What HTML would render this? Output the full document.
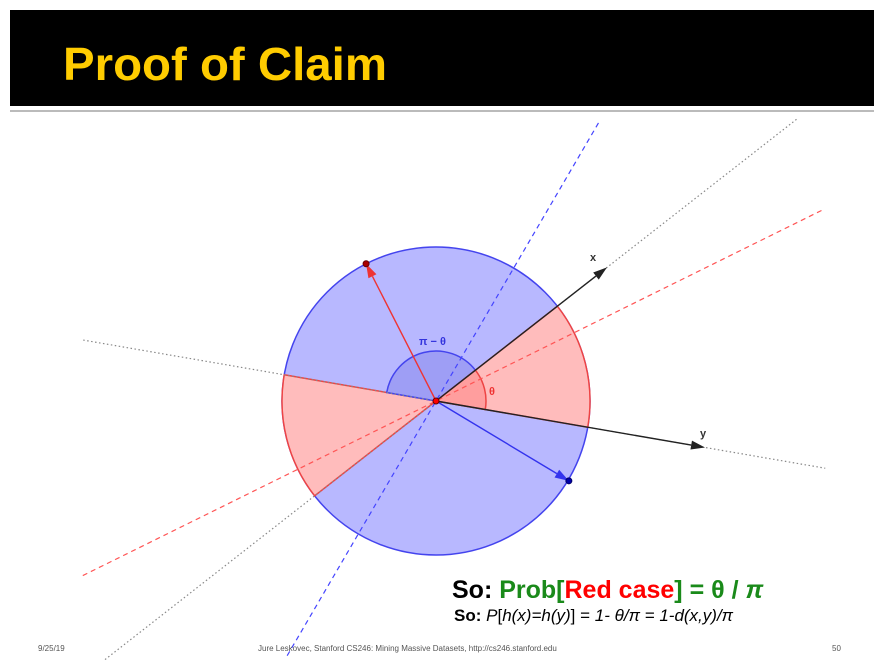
<!DOCTYPE html>
<html><head><meta charset="utf-8"><style>
body{margin:0;background:#fff;width:889px;height:670px;overflow:hidden}
svg{display:block}
</style></head><body>
<svg id="s" width="889" height="670" xmlns="http://www.w3.org/2000/svg" font-family="Liberation Sans, sans-serif">
<rect x="10" y="10" width="864" height="96" fill="#000"/>
<rect x="10" y="110" width="864" height="2" fill="#bbb"/>
<text x="63" y="80" font-size="46" font-weight="bold" fill="#ffcc00" textLength="324" lengthAdjust="spacingAndGlyphs">Proof of Claim</text>
<g id="dia"></g>
<text x="452" y="598" font-size="25" font-weight="bold"><tspan fill="#000">So: </tspan><tspan fill="#1a8a1a">Prob[</tspan><tspan fill="#ff0000">Red case</tspan><tspan fill="#1a8a1a">] = θ / </tspan><tspan fill="#1a8a1a" font-style="italic">π</tspan></text>
<text x="454" y="621" font-size="17"><tspan font-weight="bold">So: </tspan><tspan font-style="italic">P</tspan>[<tspan font-style="italic">h(x)=h(y)</tspan>] = <tspan font-style="italic">1- θ/π = 1-d(x,y)/π</tspan></text>
<text x="38" y="651" font-size="8" fill="#555">9/25/19</text>
<text x="258" y="651" font-size="8" fill="#555">Jure Leskovec, Stanford CS246: Mining Massive Datasets, http://cs246.stanford.edu</text>
<text x="832" y="651" font-size="8" fill="#555">50</text>
</svg>
<script>
const cx=436, cy=401, R=154, r=50;
const xAngle=-38, yAngle=9.8, redVecAngle=-117, blueVecAngle=31;
const xLen=217, yLen=273, redLen=154, blueLen=155;
const NS="http://www.w3.org/2000/svg";
const g=document.getElementById('dia');
function pt(a,d){const t=a*Math.PI/180;return [cx+d*Math.cos(t),cy+d*Math.sin(t)];}
function mk(tag,at,name){const e=document.createElementNS(NS,tag);for(const k in at)e.setAttribute(k,at[k]);


g.appendChild(e);return e;}
function wedge(a1,a2,rad){const p1=pt(a1,rad),p2=pt(a2,rad);const large=((a2-a1+360)%360)>180?1:0;
return `M${cx},${cy}L${p1[0]},${p1[1]}A${rad},${rad} 0 ${large} 1 ${p2[0]},${p2[1]}Z`;}
mk('circle',{cx,cy,r:R,fill:'#b8b8ff',stroke:'#4444ee','stroke-width':1.5},'unit-circle');
mk('path',{d:wedge(xAngle,yAngle,R),fill:'#ffbcbc',stroke:'#ee4444','stroke-width':1.5},'red-wedge-right');
mk('path',{d:wedge(xAngle+180,yAngle+180,R),fill:'#ffbcbc',stroke:'#ee4444','stroke-width':1.5},'red-wedge-left');
mk('path',{d:wedge(yAngle+180,xAngle+360,r),fill:'#9e9ef5',stroke:'#4444ee','stroke-width':1.5},'pi-minus-theta-arc');
mk('path',{d:wedge(xAngle,yAngle,r),fill:'#ff9e9e',stroke:'#ee4444','stroke-width':1.5},'theta-arc');
function line(a,d1,d2,st,name){const p=pt(a,d1),q=pt(a,d2);mk('line',Object.assign({x1:p[0],y1:p[1],x2:q[0],y2:q[1]},st),name);}
line(xAngle,-420,460,{stroke:'#888','stroke-width':1.2,'stroke-dasharray':'1.5 2.5'},'x-hyperplane-line');
line(yAngle,-358,395,{stroke:'#888','stroke-width':1.2,'stroke-dasharray':'1.5 2.5'},'y-hyperplane-line');
line(-59.7,-295,326,{stroke:'#4444ff','stroke-width':1.2,'stroke-dasharray':'5 4'},'blue-dashed-line');
line(-26.3,-394,432,{stroke:'#ff5555','stroke-width':1.2,'stroke-dasharray':'5 4'},'red-dashed-line');
function arrow(a,len,col,name){const q=pt(a,len),p1=pt(a,len-14);const t=a*Math.PI/180,nx=-Math.sin(t)*4.5,ny=Math.cos(t)*4.5;
mk('line',{x1:cx,y1:cy,x2:p1[0],y2:p1[1],stroke:col,'stroke-width':1.4},name);
mk('polygon',{points:`${q[0]},${q[1]} ${p1[0]+nx},${p1[1]+ny} ${p1[0]-nx},${p1[1]-ny}`,fill:col},name+'-head');}
arrow(xAngle,xLen,'#222','x-vector');
arrow(yAngle,yLen,'#222','y-vector');
arrow(redVecAngle,redLen,'#ee3333','red-normal-vector');
arrow(blueVecAngle,blueLen,'#3333ee','blue-normal-vector');
let p=pt(redVecAngle,redLen);mk('circle',{cx:p[0],cy:p[1],r:3,fill:'#aa0000',stroke:'#660000'},'red-vector-dot');
p=pt(blueVecAngle,blueLen);mk('circle',{cx:p[0],cy:p[1],r:3,fill:'#0000aa',stroke:'#000066'},'blue-vector-dot');
mk('circle',{cx,cy,r:3,fill:'#ff0000',stroke:'#660000'},'origin-dot');
function txt(x,y,s,col,name,fs){const e=mk('text',{x,y,fill:col,'font-size':fs||11,'font-weight':'bold'},name);e.textContent=s;}
txt(590,261,'x','#333','x-label');
txt(700,437,'y','#333','y-label');
txt(489,395,'θ','#ee3333','theta-label');
txt(419,345,'π − θ','#3333dd','pi-minus-theta-label');
</script>
</body></html>
